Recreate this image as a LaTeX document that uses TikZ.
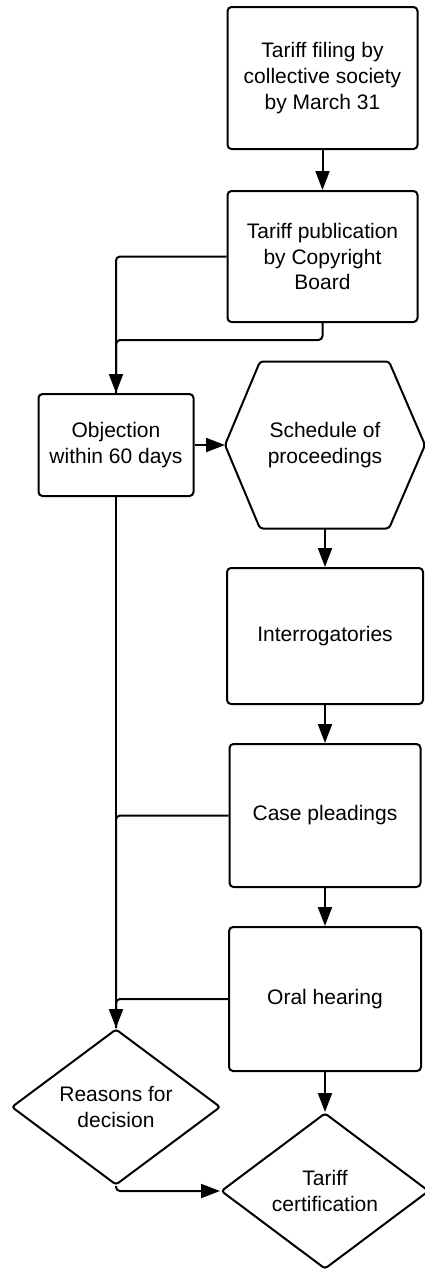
\documentclass[tikz,border=0pt]{standalone}
\usepackage{fontspec}
\setmainfont{Liberation Sans}
\usetikzlibrary{arrows.meta}
\usetikzlibrary{shapes.geometric}

\begin{document}
\begin{tikzpicture}[x=1pt, y=-1pt, line width=2pt,
      >={Triangle[length=19pt,width=14pt]},
      every node/.style={align=center, inner sep=0pt,
        font=\fontsize{21}{25.7}\selectfont},
      box/.style={draw, rounded corners=4pt},
      decision/.style={draw, diamond, aspect=1.33, rounded corners=3pt}]
      \useasboundingbox (0,0) rectangle (425,1270);

      \node[box, minimum width=190pt, minimum height=142pt] (filing) at (322.5,78)
        {Tariff filing by\\collective society\\by March 31};
      \node[box, minimum width=190pt, minimum height=131pt] (publication) at (322.5,256.5)
        {Tariff publication\\by Copyright\\Board};
      \node[box, minimum width=155pt, minimum height=102pt] (objection) at (116,445)
        {Objection\\within 60 days};
      \node[minimum width=198pt, minimum height=165pt] (schedule) at (325,445)
        {Schedule of\\proceedings};
      \draw[rounded corners=3pt] (schedule.west)
        -- ([xshift=35pt]schedule.north west) -- ([xshift=-36pt]schedule.north east)
        -- (schedule.east)
        -- ([xshift=-36pt]schedule.south east) -- ([xshift=35pt]schedule.south west)
        -- cycle;
      \node[box, minimum width=196pt, minimum height=136pt] (interrog) at (325,636)
        {Interrogatories};
      \node[box, minimum width=191pt, minimum height=143pt] (case) at (325,815.5)
        {Case pleadings};
      \node[box, minimum width=192pt, minimum height=144pt] (oral) at (325,999)
        {Oral hearing};
      \node[decision, minimum width=209pt, minimum height=156pt] (reasons) at (116,1107)
        {Reasons for\\decision};
      \node[decision, minimum width=208pt, minimum height=156pt] (cert) at (325,1191)
        {Tariff\\certification};
      \coordinate (join) at (116,340);

      \path[->] (filing) edge (publication);
      \path[->] (objection) edge (schedule);
      \path[->] (schedule) edge (interrog);
      \path[->] (interrog) edge (case);
      \path[->] (case) edge (oral);
      \path[->] (oral) edge (cert);
      \path[->] (objection) edge (reasons);

      \draw[->, rounded corners=4pt] (publication.west) -| (objection.north);
      \draw[rounded corners=4pt] (publication.south) |- (join) -- (objection.north);
      \draw[rounded corners=4pt] (case.west) -| (reasons.north);
      \draw[rounded corners=4pt] (oral.west) -| (reasons.north);
      \draw[->, rounded corners=4pt] (reasons.south) |- (cert.west);
    \end{tikzpicture}
\end{document}
